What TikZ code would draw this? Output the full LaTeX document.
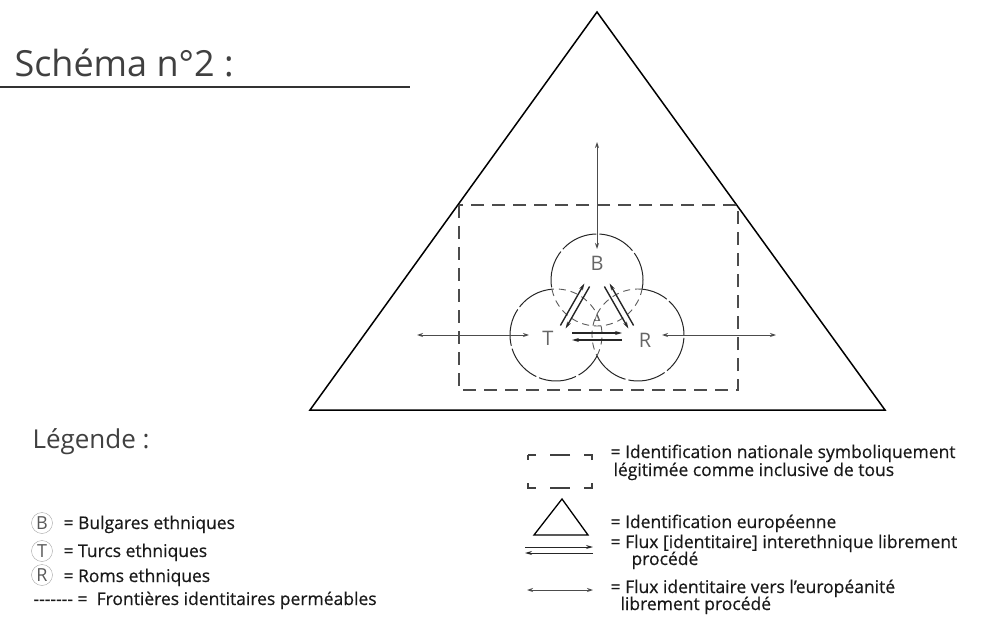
\documentclass[tikz,border=0pt]{standalone}
\usepackage{fontspec}
\setmainfont{Open Sans}
\usetikzlibrary{arrows.meta}

\tikzset{
  flux/.style={{Stealth[length=6pt,width=4pt]}-{Stealth[length=6pt,width=4pt]},black!70,line width=0.9pt},
  inter/.style={-{Stealth[length=7pt,width=4pt]},black!85,line width=1.4pt},
  border/.style={dash pattern=on 38pt off 3pt,line width=1pt,black!85},
  innerborder/.style={dash pattern=on 7pt off 5pt,line width=0.9pt,black!65},
  letter/.style={font=\fontsize{20}{20}\selectfont,text=black!60},
  legletter/.style={circle,draw=black!35,inner sep=0pt,minimum size=21pt,font=\fontsize{18}{18}\selectfont,text=black!65},
  legtext/.style={anchor=base west,font=\fontsize{17.5}{18}\selectfont\addfontfeature{FakeBold=0.5},text=black!90},
}

\begin{document}
\begin{tikzpicture}[x=1pt,y=-1pt]
  \useasboundingbox (0,0) rectangle (983,631);

  \node (title) [anchor=base west,font=\fontsize{36}{36}\selectfont,text=black!75] at (11,77) {Schéma n°2 :};
  \draw[line width=1.2pt,black!80] (0,87) -- (410,87);

  % europe + nation
  \draw[line width=1.5pt] (597,12) -- (885,410) -- (310,410) -- cycle;
  \draw[dash pattern=on 13pt off 8pt,line width=1.3pt,black!70] (459,205) rectangle (738,390);

  % three groups
  \coordinate (cB) at (597,280);
  \coordinate (cT) at (556,335);
  \coordinate (cR) at (638,335);
  \draw[border] (cB) ++(11.5:46) arc[start angle=11.5,end angle=-191.5,radius=46];
  \draw[border] (cT) ++(-95.1:46) arc[start angle=-95.1,end angle=-333.1,radius=46];
  \draw[border] (cR) ++(153.1:46) arc[start angle=153.1,end angle=-84.9,radius=46];
  \draw[innerborder] (cB) ++(168.5:46) arc[start angle=168.5,end angle=11.5,radius=46];
  \draw[innerborder] (cT) ++(26.9:46) arc[start angle=26.9,end angle=-95.1,radius=46];
  \draw[innerborder] (cR) ++(-84.9:46) arc[start angle=-84.9,end angle=-206.9,radius=46];

  \node (B) [letter] at (597,263) {B};
  \node (T) [letter] at (548,338) {T};
  \node (R) [letter] at (645,340) {R};
  \node (delta) [font=\fontsize{9}{9}\selectfont,text=black!70] at (597,318) {Δ};

  \coordinate (top) at (597,142);
  \coordinate (Bin) at (597,249);
  \coordinate (left) at (417,335);
  \coordinate (Tin) at (529,335);
  \coordinate (Rin) at (662,335);
  \coordinate (right) at (776,335);
  \path (top) edge[flux] (Bin)
        (left) edge[flux] (Tin)
        (Rin) edge[flux] (right);

  % interethnic flows
  \coordinate (tb1) at (560.4,325.5);
  \coordinate (tb2) at (584.4,283.5);
  \coordinate (tb3) at (589.6,286.5);
  \coordinate (tb4) at (565.6,328.5);
  \coordinate (br1) at (604.4,286.5);
  \coordinate (br2) at (628.4,328.5);
  \coordinate (br3) at (633.6,325.5);
  \coordinate (br4) at (609.6,283.5);
  \coordinate (tr1) at (572,333);
  \coordinate (tr2) at (622,333);
  \coordinate (tr3) at (622,340);
  \coordinate (tr4) at (572,340);
  \path (tb1) edge[inter] (tb2)
        (tb3) edge[inter] (tb4)
        (br1) edge[inter] (br2)
        (br3) edge[inter] (br4)
        (tr1) edge[inter] (tr2)
        (tr3) edge[inter] (tr4);

  % legend
  \node (legende) [anchor=base west,font=\fontsize{26}{26}\selectfont,text=black!75] at (29,448) {Légende :};
  \node (lB) [legletter] at (42,523) {B};
  \node (lT) [legletter] at (42,551) {T};
  \node (lR) [legletter] at (42,575) {R};
  \node (tB) [legtext] at (60,529) {= Bulgares ethniques};
  \node (tT) [legtext] at (60,557) {= Turcs ethniques};
  \node (tR) [legtext] at (60,582) {= Roms ethniques};
  \node (tF) [legtext] at (30,605) {-{}-{}-{}-{}-{}-{}- = \ Frontières identitaires perméables};

  \draw[dash pattern=on 13pt off 23pt on 13pt off 14pt on 20pt off 14pt,dash phase=8pt,line width=1.2pt,black!75]
    (528,455) -- (528,488) -- (592,488) -- (592,455) -- cycle;
  \node (tNat1) [legtext] at (607,458) {= Identification nationale symboliquement};
  \node (tNat2) [legtext] at (610,476) {légitimée comme inclusive de tous};

  \draw[line width=1.3pt] (562,499) -- (588,535) -- (534,535) -- cycle;
  \node (tEur) [legtext] at (607,528) {= Identification européenne};

  \coordinate (ia1) at (525,547);
  \coordinate (ia2) at (593,547);
  \coordinate (ia3) at (593,553);
  \coordinate (ia4) at (525,553);
  \path (ia1) edge[inter,line width=1pt] (ia2)
        (ia3) edge[inter,line width=1pt] (ia4);
  \node (tInt1) [legtext] at (607,548) {= Flux [identitaire] interethnique librement};
  \node (tInt2) [legtext] at (628,565) {procédé};

  \coordinate (ea1) at (527,590);
  \coordinate (ea2) at (593,590);
  \path (ea1) edge[flux] (ea2);
  \node (tEu1) [legtext] at (607,593) {= Flux identitaire vers l'européanité};
  \node (tEu2) [legtext] at (617,610) {librement procédé};
\end{tikzpicture}
\end{document}
